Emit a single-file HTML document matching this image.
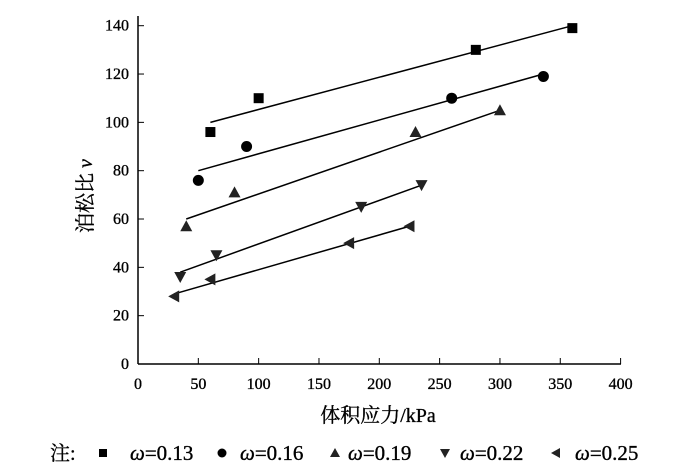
<!DOCTYPE html>
<html><head><meta charset="utf-8"><style>
body{margin:0;background:#fff;}
svg{display:block;font-family:"Liberation Serif","Noto Serif CJK SC",serif;}
text{stroke:#000;stroke-width:0.35;}
</style></head><body>
<svg id="chart" width="700" height="474"></svg>
<script>
const xTicks=[0,50,100,150,200,250,300,350,400];
const yTicks=[0,20,40,60,80,100,120,140];
const seriesNames=["ω=0.13","ω=0.16","ω=0.19","ω=0.22","ω=0.25"];
const s1x=[60,100,280,360], s1y=[96,110,130,139];
const s2x=[50,90,260,336], s2y=[76,90,110,119];
const s3x=[40,80,230,300], s3y=[57,71,96,105];
const s4x=[35,65,185,235], s4y=[36,45,65,74];
const s5x=[30,60,175,225], s5y=[28,35,50,57];
const fitX=[[60,360],[50,336],[40,300],[35,235],[30,225]];
const fitY=[[100,140],[80,120],[60,105],[38,74],[29,57]];
const X=v=>138+v*(620.6-138)/400;
const Y=v=>364-v*(364-25.7)/140;
const NS="http://www.w3.org/2000/svg";
const svg=document.getElementById('chart');
function mk(t,a,p){const e=document.createElementNS(NS,t);for(const k in a)e.setAttribute(k,a[k]);(p||svg).appendChild(e);return e;}
const ax=mk('g',{});


mk('line',{x1:138,y1:364,x2:621,y2:364,stroke:'#000','stroke-width':1.5},ax);
mk('line',{x1:138,y1:364,x2:138,y2:16,stroke:'#000','stroke-width':1.5},ax);
xTicks.forEach(t=>{
 mk('line',{x1:X(t),y1:364,x2:X(t),y2:358,stroke:'#000'},ax);
 const tx=mk('text',{x:X(t),y:389,'text-anchor':'middle','font-size':16},ax);tx.textContent=t;
 
 
});
yTicks.forEach(t=>{
 mk('line',{x1:138,y1:Y(t),x2:144,y2:Y(t),stroke:'#000'},ax);
 const tx=mk('text',{x:129,y:Y(t)+5,'text-anchor':'end','font-size':16},ax);tx.textContent=t;
 
 
});
const xt=mk('text',{x:378,y:422,'text-anchor':'middle','font-size':20});xt.textContent='体积应力/kPa';


const yt=mk('text',{x:0,y:0,'text-anchor':'middle','font-size':20,transform:'translate(92,196) rotate(-90)'});
yt.innerHTML='泊松比 <tspan font-style="italic">ν</tspan>';


function marker(k,cx,cy,s,p){
 if(k==0) return mk('rect',{x:cx-s,y:cy-s,width:2*s,height:2*s,fill:'#000'},p);
 if(k==1) return mk('circle',{cx,cy,r:s+0.5,fill:'#000'},p);
 let pts;
 if(k==2) pts=[[cx,cy-s-1],[cx-s-1,cy+s],[cx+s+1,cy+s]];
 if(k==3) pts=[[cx,cy+s+1],[cx-s-1,cy-s],[cx+s+1,cy-s]];
 if(k==4) pts=[[cx-s-1,cy],[cx+s,cy-s-1],[cx+s,cy+s+1]];
 return mk('polygon',{points:pts.map(q=>q.join(',')).join(' '),fill:'#222'},p);
}
const SX=[s1x,s2x,s3x,s4x,s5x], SY=[s1y,s2y,s3y,s4y,s5y];
SX.forEach((xs,k)=>{
 const g=mk('g',{});
 
 
 const ln=mk('line',{x1:X(fitX[k][0]),y1:Y(fitY[k][0]),x2:X(fitX[k][1]),y2:Y(fitY[k][1]),stroke:'#000','stroke-width':1.5},g);
 
 
 xs.forEach((v,i)=>{
  const m=marker(k,X(v),Y(SY[k][i]),5,g);
  
  
 });
});
const lg=mk('g',{});


const note=mk('text',{x:50,y:460,'font-size':20},lg);note.textContent='注:';
const lx=[103,222,335,445,556];
const tx0=[130,240,348,460,575];
seriesNames.forEach((n,k)=>{
 const m=marker(k,lx[k],453,4,lg);
 
 
 const t=mk('text',{x:tx0[k],y:460,'font-size':21},lg);
 t.innerHTML='<tspan font-style="italic">ω</tspan>'+n.slice(1);
 
 
});
</script>
</body></html>
